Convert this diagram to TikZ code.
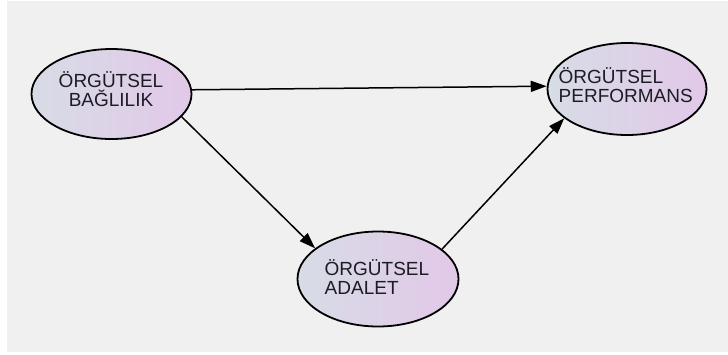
\documentclass[tikz,border=0pt]{standalone}
\usepackage{fontspec}
\setmainfont{Liberation Sans}
\usetikzlibrary{arrows.meta,shapes.geometric}
\definecolor{bggray}{HTML}{F0F0F0}
\definecolor{fillA}{HTML}{D7DCE6}
\definecolor{fillB}{HTML}{E2C8E8}
\definecolor{txt}{HTML}{1C1C24}
\tikzset{
  ell/.style={ellipse, draw=black, line width=1.8pt, left color=fillA, right color=fillB, inner sep=0pt},
  lbl/.style={inner sep=0pt, text=txt, font=\fontsize{19}{20}\selectfont},
  conn/.style={line width=1.5pt, draw=black, -{Triangle[length=16pt,width=11pt]}}
}
\begin{document}
\begin{tikzpicture}[x=1pt,y=-1pt]
\useasboundingbox (0,0) rectangle (728,354);
\fill[white] (0,0) rectangle (728,354);
\fill[bggray] (7,1) rectangle (728,352);

\node[ell, minimum width=160pt, minimum height=90pt] (bag) at (111.5,94) {};
\node[ell, minimum width=159pt, minimum height=92pt] (perf) at (627,89) {};
\node[ell, minimum width=161pt, minimum height=95pt] (adal) at (378,279) {};

\node[lbl, anchor=base] (bag1) at (111,87.3) {ÖRGÜTSEL};
\node[lbl, anchor=base] (bag2) at (111,106.7) {BAĞLILIK};
\node[lbl, anchor=base west] (perf1) at (558.5,83.3) {ÖRGÜTSEL};
\node[lbl, anchor=base west] (perf2) at (558.5,102.5) {PERFORMANS};
\node[lbl, anchor=base west] (adal1) at (324.5,275) {ÖRGÜTSEL};
\node[lbl, anchor=base west] (adal2) at (324.5,294) {ADALET};

\draw[conn] (bag.3.4) -- (perf.178.8);
\draw[conn] (bag.-18.6) -- (adal.154.6);
\draw[conn] (adal.25.9) -- (perf.205.8);
\end{tikzpicture}
\end{document}
